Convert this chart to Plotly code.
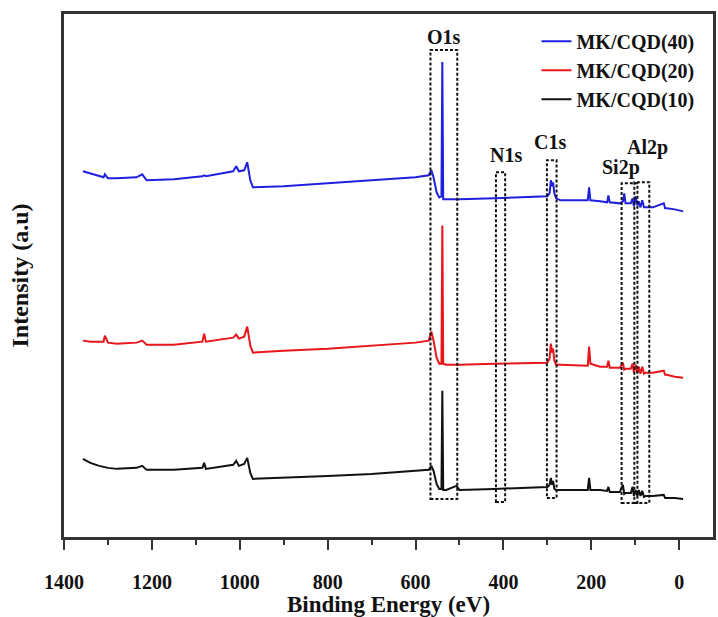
import plotly.graph_objects as go

# Binding energy grid (eV) shared by the three survey spectra
energy = [
    1357, 1340, 1320, 1310, 1307, 1300, 1280, 1235, 1222, 1212,
    1150, 1085, 1081, 1077, 1015, 1008, 1002, 990, 983, 976,
    970, 900, 800, 700, 600, 570, 564, 559, 552, 546,
    541, 539, 537, 530, 507, 500, 420, 300, 295, 292,
    289, 287, 284, 280, 270, 208, 205, 202, 180, 164,
    161, 158, 135, 128, 125, 122, 110, 106, 103, 99,
    95, 92, 88, 84, 80, 76, 60, 35, 32, 28,
    10, -9,
]

# Intensities (a.u., stacked with vertical offsets)
cqd40 = [
    365, 363, 360, 359, 362, 358, 358, 359, 362, 356,
    357, 360, 361, 360, 365, 370, 365, 366, 374, 356,
    349, 350, 353, 356, 359, 361, 366, 359, 344, 339,
    340, 474, 337, 337, 337, 337, 338, 340, 343, 356,
    350, 354, 343, 338, 336, 336, 349, 336, 335, 334,
    341, 334, 333, 335, 343, 333, 333, 338, 330, 340,
    331, 335, 329, 336, 329, 329, 329, 333, 328, 328,
    327, 325,
]
cqd20 = [
    196, 195, 195, 195, 201, 194, 193, 194, 196, 192,
    192, 195, 203, 195, 199, 202, 198, 200, 210, 191,
    184, 186, 188, 191, 194, 196, 205, 196, 179, 173,
    173, 311, 173, 172, 172, 172, 173, 174, 178, 193,
    184, 188, 176, 172, 172, 171, 190, 173, 170, 170,
    176, 169, 169, 174, 167, 168, 168, 173, 164, 172,
    164, 170, 163, 170, 163, 164, 164, 166, 162, 162,
    160, 159,
]
cqd10 = [
    78, 74, 71, 70, 70, 69, 68, 69, 71, 67,
    67, 69, 74, 68, 72, 76, 71, 73, 79, 64,
    58, 59, 61, 63, 66, 67, 71, 66, 53, 48,
    48, 146, 47, 47, 51, 47, 48, 50, 52, 59,
    52, 56, 48, 47, 47, 47, 59, 47, 47, 46,
    50, 45, 45, 52, 43, 44, 44, 50, 41, 47,
    41, 47, 41, 46, 40, 41, 41, 42, 39, 39,
    39, 38,
]

series_names = ["MK/CQD(40)", "MK/CQD(20)", "MK/CQD(10)"]
series_colors = ["#1f1fe0", "#e8161b", "#111111"]

# Peak regions: label, high/low energy bounds, box top/bottom, label position
peak_labels = ["O1s", "N1s", "C1s", "Si2p", "Al2p"]
box_hi = [566, 417, 301, 131, 102]
box_lo = [505, 396, 279, 95, 68]
box_top = [486, 364, 376, 353, 354]
box_bottom = [38, 35, 39, 34, 34]
label_x = [535, 394, 294, 133, 72]
label_y = [499, 381, 394, 369, 389]

major_ticks = [1400, 1200, 1000, 800, 600, 400, 200, 0]
minor_ticks = [1300, 1100, 900, 700, 500, 300, 100]

FONT = "Liberation Serif"

fig = go.Figure()
for name, color, vals in zip(series_names, series_colors, [cqd40, cqd20, cqd10]):
    fig.add_trace(go.Scatter(
        x=energy, y=vals, mode="lines", name=name,
        line=dict(color=color, width=2),
    ))

for lab, hi, lo, top, bot, lx, ly in zip(peak_labels, box_hi, box_lo, box_top,
                                          box_bottom, label_x, label_y):
    fig.add_shape(type="rect", x0=hi, x1=lo, y0=bot, y1=top, xref="x", yref="y",
                  line=dict(color="#111111", width=2, dash="3px,2px"),
                  fillcolor="rgba(0,0,0,0)")
    fig.add_annotation(x=lx, y=ly, xref="x", yref="y", text=f"<b>{lab}</b>",
                       showarrow=False, font=dict(family=FONT, size=20, color="#111111"))

fig.update_layout(
    width=718, height=617,
    margin=dict(l=64, r=2, t=14, b=80),
    paper_bgcolor="white", plot_bgcolor="white",
    font=dict(family=FONT, size=20, color="#111111"),
    showlegend=True,
    legend=dict(
        x=0.728, y=0.985, xanchor="left", yanchor="top",
        bgcolor="rgba(0,0,0,0)", borderwidth=0,
        font=dict(family=FONT, size=20, color="#111111", weight="bold"),
        tracegroupgap=0, itemwidth=30,
    ),
    xaxis=dict(
        range=[1400, -77], showgrid=False, zeroline=False,
        showline=True, linecolor="#333333", linewidth=3, mirror=True,
        ticks="outside", ticklen=10, tickwidth=2, tickcolor="#333333",
        tickmode="array", tickvals=major_ticks,
        ticktext=["<b>%d</b>" % v for v in major_ticks],
        ticklabelstandoff=15,
        minor=dict(ticks="outside", ticklen=5, tickwidth=2, tickcolor="#333333",
                   tickvals=minor_ticks),
        tickfont=dict(family=FONT, size=20, color="#111111"),
        title=dict(text="<b>Binding Energy (eV)</b>", standoff=6,
                   font=dict(family=FONT, size=23, color="#111111")),
    ),
    yaxis=dict(
        range=[0, 522], showgrid=False, zeroline=False,
        showline=True, linecolor="#333333", linewidth=3, mirror=True,
        showticklabels=False, ticks="",
        title=dict(text="<b>Intensity (a.u)</b>", standoff=26,
                   font=dict(family=FONT, size=24, color="#111111")),
    ),
)

fig.write_html("out.html")
